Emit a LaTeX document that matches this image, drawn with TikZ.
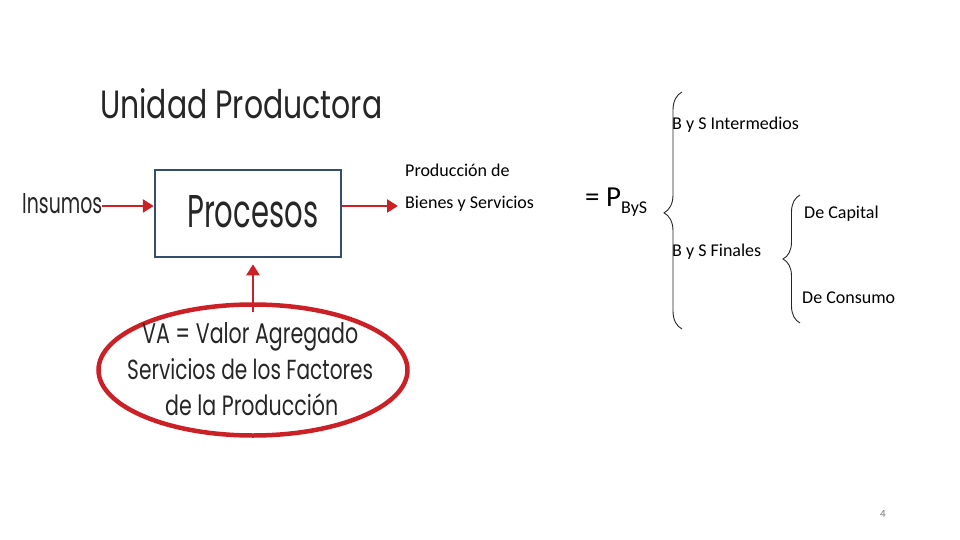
\documentclass[tikz,border=0pt]{standalone}
\usepackage{fontspec}
\usepackage{graphicx}
\setmainfont{Carlito}
\newfontfamily\gothic{Poppins}
\usetikzlibrary{arrows.meta,shapes.geometric,decorations.pathreplacing}
\definecolor{redA}{RGB}{204,32,39}
\definecolor{boxblue}{RGB}{52,78,108}
\definecolor{pagegray}{RGB}{120,120,120}
\tikzset{
  gtext/.style={inner sep=0pt, anchor=base west, text=black!85},
  ctext/.style={inner sep=0pt, anchor=base west, font=\fontsize{18}{20}\selectfont},
  redarrow/.style={draw=redA, line width=2.5pt, -{Triangle[length=11pt,width=13pt]}},
  bracestyle/.style={draw=black!85, line width=0.9pt, decorate},
}
\begin{document}
\begin{tikzpicture}[x=1pt,y=-1pt]
\useasboundingbox (0,0) rectangle (960,540);
% title
\node[gtext] (title) at (100,119) {\resizebox{282pt}{30pt}{\gothic Unidad Productora}};
% process box
\node[draw=boxblue, line width=2.5pt, minimum width=186pt, minimum height=87pt, inner sep=0pt] (proc) at (248,213.5) {};
\node[gtext] (proctext) at (187,227) {\resizebox{131pt}{32pt}{\gothic Procesos}};
% inputs
\node[gtext] (insumos) at (22,213) {\resizebox{80pt}{20pt}{\gothic Insumos}};
% ellipse
\node[ellipse, draw=redA, line width=4.5pt, minimum width=309pt, minimum height=131pt, inner sep=0pt] (va) at (253,370) {};
\node[gtext] (va1) at (142,343) {\resizebox{216pt}{21pt}{\gothic VA = Valor Agregado}};
\node[gtext] (va2) at (127,379) {\resizebox{246pt}{21pt}{\gothic Servicios de los Factores}};
\node[gtext] (va3) at (165,415) {\resizebox{173pt}{22pt}{\gothic de la Producción}};
% output texts
\node[ctext] (prod1) at (405,177) {Producción de};
\node[ctext] (prod2) at (405,208) {Bienes y Servicios};
\node[inner sep=0pt, anchor=base west, font=\fontsize{29}{30}\selectfont] (pbys) at (585,206) {= P\raisebox{-7pt}{\fontsize{18}{18}\selectfont ByS}};
\node[ctext] (inter) at (672,130) {B y S Intermedios};
\node[ctext] (final) at (672,256) {B y S Finales};
\node[ctext] (capital) at (804,218) {De Capital};
\node[ctext] (consumo) at (802,303) {De Consumo};
\node[inner sep=0pt, text=pagegray, font=\fontsize{11}{12}\selectfont] (pagenum) at (883,514) {4};
% arrows
\coordinate (outtip) at (398,206);
\draw[redarrow] (insumos.east |- 0,206) -- (proc.west |- 0,206);
\draw[redarrow] (proc.east |- 0,206) -- (outtip);
\draw[redarrow] ([yshift=-10pt]va.north) -- ([yshift=-6pt]va.north |- proc.south);
% braces
\coordinate (b1top) at (682,92);
\coordinate (b1bot) at (682,329);
\coordinate (b2top) at (800,195);
\coordinate (b2bot) at (800,323);
\draw[bracestyle, decoration={brace, amplitude=18pt, aspect=0.49}] (b1bot) -- (b1top);
\draw[bracestyle, decoration={brace, amplitude=17pt}] (b2bot) -- (b2top);
\end{tikzpicture}
\end{document}
